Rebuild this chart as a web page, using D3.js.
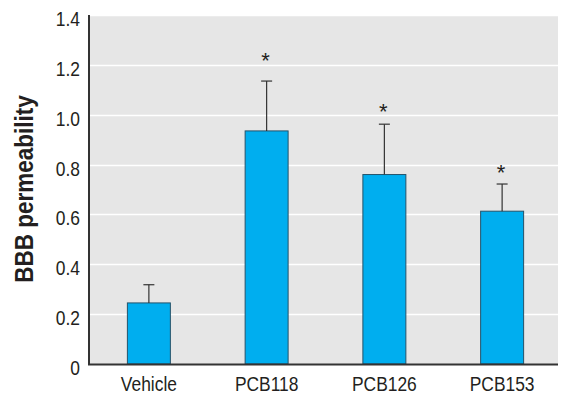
<!DOCTYPE html>
<html>
<head>
<meta charset="utf-8">
<script src="https://cdn.jsdelivr.net/npm/d3@7"></script>
<style>
  html, body { margin: 0; padding: 0; background: #fff; }
  svg { display: block; }
</style>
</head>
<body>
<svg id="chart" width="569" height="400"></svg>
<script>
// ---- data ----
const categories = ["Vehicle", "PCB118", "PCB126", "PCB153"];
const means = [0.245, 0.935, 0.76, 0.613];
const errUpper = [0.318, 1.135, 0.962, 0.722];
const significant = [false, true, true, true];
const starLevels = [null, 1.244, 1.036, 0.792];
const yTicks = [0, 0.2, 0.4, 0.6, 0.8, 1.0, 1.2, 1.4];
const yTickLabels = ["0", "0.2", "0.4", "0.6", "0.8", "1.0", "1.2", "1.4"];
const yTitle = "BBB permeability";

// ---- layout ----
const svg = d3.select("#chart");
const mLeft = 90, mRight = 558, mTop = 15, mBottom = 364;
const font = "'Liberation Sans', Arial, sans-serif";
const textColor = "#231f20";
const squeeze = 0.87;

const x = d3.scaleBand().domain(categories).range([90, 561]).paddingInner(0.635).paddingOuter(0.3175);
const y = d3.scaleLinear().domain([0, 1.4]).range([mBottom, mTop]);

// condense text horizontally around its anchor point
function condense(sel, s) {
  sel.each(function () {
    const t = d3.select(this);
    const tx = +t.attr("x") || 0, ty = +t.attr("y") || 0;
    t.attr("x", 0).attr("y", 0).attr("dy", null)
      .attr("transform", `translate(${tx},${ty}) scale(${s},1)`);
  });
}

// background
svg.append("rect").attr("x", mLeft).attr("y", y(1.4)).attr("width", mRight - mLeft).attr("height", mBottom - y(1.4))
  .attr("fill", "#e6e6e6");

// grid
svg.append("g").selectAll("line").data(yTicks.filter(d => d > 0)).join("line")
  .attr("x1", mLeft).attr("x2", mRight)
  .attr("y1", d => Math.round(y(d)) + 0.5).attr("y2", d => Math.round(y(d)) + 0.5)
  .attr("stroke", "#ffffff").attr("stroke-width", 1.5);

// y axis labels
const yAxis = d3.axisLeft(y).tickValues(yTicks).tickFormat((d, i) => yTickLabels[i]).tickSize(0).tickPadding(10);
const gy = svg.append("g").attr("transform", `translate(${mLeft},0)`).call(yAxis);
gy.select(".domain").remove();
gy.selectAll("text").attr("font-family", font).attr("font-size", 20).attr("fill", textColor)
  .attr("x", -10).attr("y", 10.5).call(condense, squeeze);

// bars
svg.append("g").selectAll("rect").data(categories).join("rect")
  .attr("x", d => x(d)).attr("width", x.bandwidth())
  .attr("y", (d, i) => y(means[i])).attr("height", (d, i) => y(0) - y(means[i]))
  .attr("fill", "#00aeef").attr("stroke", "#25536a").attr("stroke-width", 1);

// error bars
const eb = svg.append("g").attr("stroke", "#333").attr("stroke-width", 1.2);
categories.forEach((c, i) => {
  const cx = x(c) + x.bandwidth() / 2;
  eb.append("line").attr("x1", cx).attr("x2", cx).attr("y1", y(means[i])).attr("y2", y(errUpper[i]));
  eb.append("line").attr("x1", cx - 5.5).attr("x2", cx + 5.5).attr("y1", y(errUpper[i])).attr("y2", y(errUpper[i]));
});

// significance stars
svg.append("g").selectAll("text").data(categories.filter((c, i) => significant[i])).join("text")
  .attr("x", d => x(d) + x.bandwidth() / 2 - 1)
  .attr("y", d => y(starLevels[categories.indexOf(d)]))
  .attr("dy", "0.62em")
  .attr("text-anchor", "middle")
  .attr("font-family", font).attr("font-size", 22).attr("fill", textColor)
  .text("*");

// axis lines
svg.append("line").attr("x1", 89).attr("x2", 89).attr("y1", y(1.4)).attr("y2", mBottom + 1)
  .attr("stroke", "#333").attr("stroke-width", 2);
svg.append("line").attr("x1", 88).attr("x2", mRight).attr("y1", mBottom + 0.5).attr("y2", mBottom + 0.5)
  .attr("stroke", "#333").attr("stroke-width", 2.2);

// x axis labels
const xAxis = d3.axisBottom(x).tickSize(0).tickPadding(10);
const gx = svg.append("g").attr("transform", `translate(0,${mBottom})`).call(xAxis);
gx.select(".domain").remove();
gx.selectAll("text").attr("font-family", font).attr("font-size", 20).attr("fill", textColor)
  .attr("x", 0).attr("y", 27).call(condense, squeeze);

// y title
svg.append("text")
  .attr("transform", `translate(33,189) rotate(-90) scale(0.9,1)`)
  .attr("text-anchor", "middle")
  .attr("font-family", font).attr("font-size", 25).attr("font-weight", "bold").attr("fill", textColor)
  .text(yTitle);
</script>
</body>
</html>
